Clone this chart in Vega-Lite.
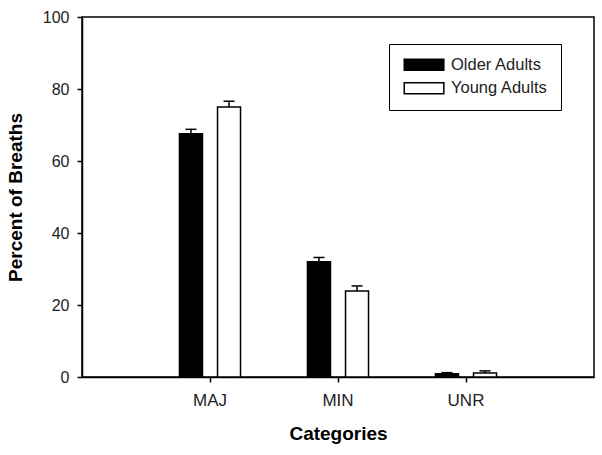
{
  "$schema": "https://vega.github.io/schema/vega-lite/v6.json",
  "width": 512,
  "height": 360,
  "autosize": {"type": "none"},
  "padding": {"left": 82, "top": 17, "right": 8, "bottom": 78},
  "background": "white",
  "config": {
    "font": "Liberation Sans",
    "view": {"stroke": "black", "strokeWidth": 1.5},
    "axis": {"grid": false, "domainColor": "black", "domainWidth": 1.5, "tickColor": "black", "tickWidth": 1.5, "tickSize": 5, "labelColor": "#222", "labelFontSize": 16, "labelFont": "Liberation Sans", "titleFont": "Liberation Sans", "titleFontSize": 19, "titleFontWeight": "bold", "titleColor": "black"}
  },
  "data": {
    "values": [
      {"category": "MAJ", "group": "Older Adults", "value": 67.6, "upper": 68.8},
      {"category": "MAJ", "group": "Young Adults", "value": 75.0, "upper": 76.6},
      {"category": "MIN", "group": "Older Adults", "value": 32.0, "upper": 33.2},
      {"category": "MIN", "group": "Young Adults", "value": 23.9, "upper": 25.3},
      {"category": "UNR", "group": "Older Adults", "value": 0.9, "upper": 1.2},
      {"category": "UNR", "group": "Young Adults", "value": 1.1, "upper": 1.7}
    ]
  },
  "encoding": {
    "x": {
      "field": "category", "type": "nominal",
      "scale": {"domain": ["MAJ", "MIN", "UNR"], "paddingInner": 0, "paddingOuter": 0.5},
      "axis": {"title": "Categories", "labelAngle": 0, "labelFontSize": 17, "labelPadding": 10, "titlePadding": 16}
    },
    "xOffset": {
      "field": "group", "type": "nominal",
      "scale": {"domain": ["Older Adults", "Young Adults"], "paddingInner": 0.395, "paddingOuter": 0.88}
    }
  },
  "layer": [
    {
      "mark": {"type": "bar", "stroke": "black", "strokeWidth": 1.5},
      "encoding": {
        "y": {
          "field": "value", "type": "quantitative",
          "scale": {"domain": [0, 100], "nice": false},
          "axis": {"title": "Percent of Breaths", "values": [0, 20, 40, 60, 80, 100], "labelPadding": 8, "titleX": -67, "titleY": 180, "titleBaseline": "middle", "titleAngle": 270}
        },
        "fill": {
          "field": "group", "type": "nominal",
          "scale": {"domain": ["Older Adults", "Young Adults"], "range": ["black", "white"]},
          "legend": {
            "title": null, "orient": "none", "legendX": 307, "legendY": 27,
            "strokeColor": "black", "padding": 12.5, "fillColor": "white",
            "symbolType": "M-1,-1H6.2V1H-1Z", "symbolSize": 121,
            "symbolStrokeColor": "black", "symbolStrokeWidth": 1.5, "symbolOpacity": 1,
            "labelFontSize": 16.5, "labelColor": "#222", "labelFont": "Liberation Sans",
            "labelOffset": 33, "rowPadding": 5.5
          }
        }
      }
    },
    {
      "mark": {"type": "rule", "stroke": "black", "strokeWidth": 1.5},
      "encoding": {
        "y": {"field": "value", "type": "quantitative"},
        "y2": {"field": "upper"}
      }
    },
    {
      "mark": {"type": "tick", "color": "black", "thickness": 1.5, "size": 11, "opacity": 1},
      "encoding": {
        "y": {"field": "upper", "type": "quantitative"}
      }
    }
  ]
}
